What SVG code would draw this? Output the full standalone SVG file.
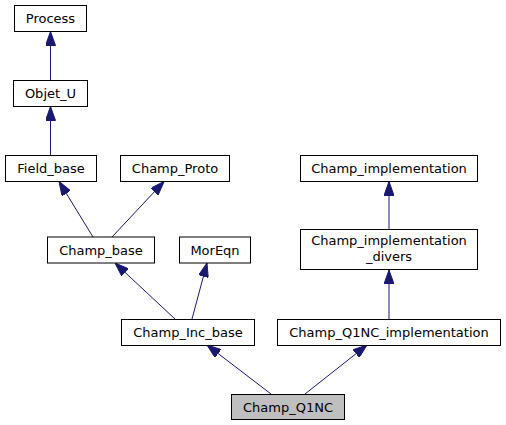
<svg xmlns="http://www.w3.org/2000/svg" width="506" height="425" viewBox="0 0 506 425">
<style>
.node rect{fill:#ffffff;stroke:#000000;stroke-width:1}
.node text{font-family:"DejaVu Sans",sans-serif;font-size:13px;fill:#000000;text-anchor:middle}
.edge{fill:none;stroke:#191970;stroke-width:1;marker-end:url(#arr)}
</style>
<defs>
<marker id="arr" markerUnits="userSpaceOnUse" viewBox="0 0 14 10" refX="14" refY="5" markerWidth="14" markerHeight="10" orient="auto">
<path d="M0,0 L14,5 L0,10 z" fill="#191970" stroke="#191970" stroke-width="1"/>
</marker>
</defs>
<rect width="506" height="425" fill="#ffffff"/>
<g id="edges">
<line class="edge" x1="50.5" y1="80.5" x2="50.5" y2="31.5"/>
<line class="edge" x1="50.5" y1="155.5" x2="50.5" y2="106.5"/>
<line class="edge" x1="93" y1="237" x2="59" y2="181.5"/>
<line class="edge" x1="112" y1="237" x2="164" y2="181.5"/>
<line class="edge" x1="175" y1="319" x2="115" y2="263"/>
<line class="edge" x1="192" y1="319" x2="207" y2="263"/>
<line class="edge" x1="271" y1="394" x2="207" y2="345"/>
<line class="edge" x1="305" y1="394" x2="367" y2="345"/>
<line class="edge" x1="389" y1="229.5" x2="389" y2="181.5"/>
<line class="edge" x1="389" y1="319.5" x2="389" y2="270"/>
</g>
<g id="Process" class="node"><rect x="14.5" y="5.5" width="72" height="26"/><text x="50.5" y="23">Process</text></g>
<g id="Objet_U" class="node"><rect x="13.5" y="80.5" width="74" height="26"/><text x="50.5" y="98">Objet_U</text></g>
<g id="Field_base" class="node"><rect x="5.5" y="155.5" width="91" height="26"/><text x="51" y="173">Field_base</text></g>
<g id="Champ_Proto" class="node"><rect x="120.5" y="155.5" width="109" height="26"/><text x="175" y="173">Champ_Proto</text></g>
<g id="Champ_base" class="node"><rect x="47.5" y="237" width="107" height="26"/><text x="101" y="254.5">Champ_base</text></g>
<g id="MorEqn" class="node"><rect x="179.5" y="237" width="71" height="26"/><text x="215" y="254.5">MorEqn</text></g>
<g id="Champ_Inc_base" class="node"><rect x="121.5" y="319.5" width="133" height="26"/><text x="188" y="337">Champ_Inc_base</text></g>
<g id="Champ_Q1NC" class="node"><rect x="231.5" y="394.5" width="113" height="25" style="fill:#bfbfbf"/><text x="288" y="411.5">Champ_Q1NC</text></g>
<g id="Champ_Q1NC_implementation" class="node"><rect x="277.5" y="319.5" width="223" height="26"/><text x="389" y="337">Champ_Q1NC_implementation</text></g>
<g id="Champ_implementation" class="node"><rect x="300.5" y="155.5" width="177" height="26"/><text x="389" y="173">Champ_implementation</text></g>
<g id="Champ_implementation_divers" class="node"><rect x="300.5" y="229.5" width="177" height="40"/><text x="389" y="245">Champ_implementation</text><text x="389" y="261">_divers</text></g>
</svg>
